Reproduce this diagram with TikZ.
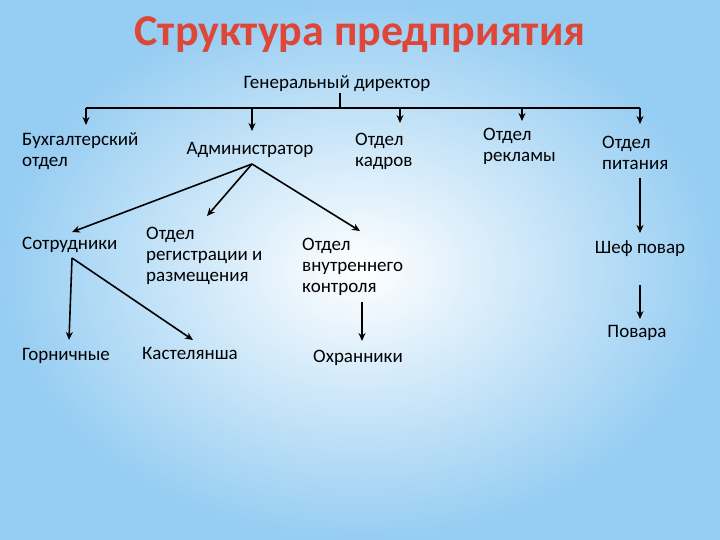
\documentclass[tikz,border=0pt]{standalone}
\usepackage{fontspec}
\setmainfont{Carlito}
\usetikzlibrary{arrows.meta}
\begin{document}
\begin{tikzpicture}[x=1pt,y=-1pt,
  lbl/.style={font=\fontsize{19}{21}\selectfont,align=left,inner sep=0pt,anchor=west},
  lblc/.style={font=\fontsize{19}{21}\selectfont,inner sep=0pt},
  con/.style={line width=1.6pt,-{Stealth[length=8pt,width=7pt]}},
  ln/.style={line width=1.6pt}]
\useasboundingbox (0,0) rectangle (720,540);
\shade[inner color=white, outer color={rgb,255:red,150;green,205;blue,242}] (0,0) rectangle (720,540);
\node[font=\fontsize{44}{48}\bfseries\selectfont, text={rgb,255:red,222;green,70;blue,55}] (title) at (360,35) {Структура предприятия};
\node[lblc] (gd) at (337,84) {Генеральный директор};
\coordinate (gdb) at (340,93);
\coordinate (hl) at (86,108);
\coordinate (hr) at (640,108);
\coordinate (hm) at (340,108);
\node[lbl] (buh) at (22,151) {Бухгалтерский\\отдел};
\node[lblc] (adm) at (250,150) {Администратор};
\node[lbl] (kad) at (355,151) {Отдел\\кадров};
\node[lbl] (rek) at (483,146) {Отдел\\рекламы};
\node[lbl] (pit) at (602,153) {Отдел\\питания};
\node[lbl] (sotr) at (22,245) {Сотрудники};
\node[lbl] (reg) at (146,256) {Отдел\\регистрации и\\размещения};
\node[lbl] (vnk) at (302,267) {Отдел\\внутреннего\\контроля};
\node[lblc] (shef) at (640,249) {Шеф повар};
\node[lblc] (pov) at (637,333) {Повара};
\node[lbl] (gor) at (22,356) {Горничные};
\node[lbl] (kas) at (142,353) {Кастелянша};
\node[lbl] (ohr) at (313,358) {Охранники};
\draw[ln] (gdb) -- (hm);
\draw[ln] (hl) -- (hr);
\draw[con] (hl) -- (86,125);
\draw[con] (252,108) -- (252,131);
\draw[con] (400,108) -- (400,123);
\draw[con] (522,108) -- (522,121);
\draw[con] (hr) -- (640,124);
\coordinate (admb) at (252,164);
\draw[con] (admb) -- (72,232);
\draw[con] (admb) -- (207,216);
\draw[con] (admb) -- (360,231);
\draw[con] (640,178) -- (640,233);
\draw[con] (640,285) -- (640,319);
\coordinate (sb) at (72,258);
\draw[con] (sb) -- (69,340);
\draw[con] (sb) -- (193,340);
\draw[con] (362,302) -- (362,341);
\end{tikzpicture}
\end{document}
